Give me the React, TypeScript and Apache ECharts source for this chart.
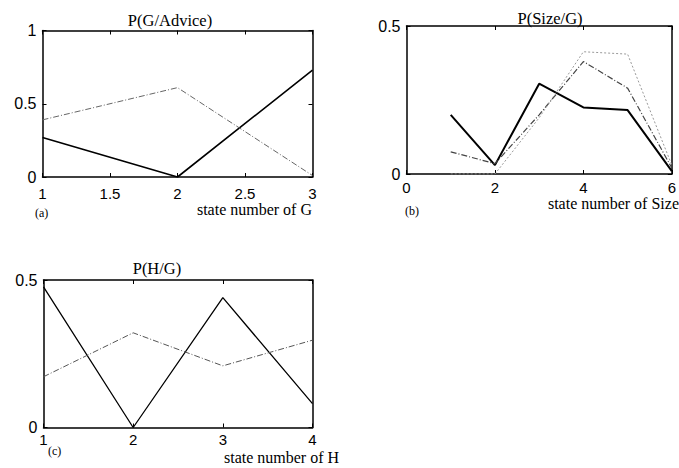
import React, { useEffect, useRef } from "react";
import * as echarts from "echarts";

// Panel (a): P(G/Advice)
const aStates = [1, 2, 3];
const aSolid = [0.27, 0.0, 0.73];
const aDashDot = [0.39, 0.61, 0.01];

// Panel (b): P(Size/G)
const bStates = [1, 2, 3, 4, 5, 6];
const bSolid = [0.2, 0.03, 0.305, 0.225, 0.216, 0.01];
const bDashDot = [0.075, 0.035, 0.2, 0.38, 0.29, 0.02];
const bDotted = [0.0, 0.0, 0.19, 0.413, 0.405, 0.03];

// Panel (c): P(H/G)
const cStates = [1, 2, 3, 4];
const cSolid = [0.477, 0.0, 0.44, 0.081];
const cDashDot = [0.172, 0.321, 0.209, 0.296];

const titles = ["P(G/Advice)", "P(Size/G)", "P(H/G)"];
const xLabels = ["state number of G", "state number of Size", "state number of H"];
const panelTags = ["(a)", "(b)", "(c)"];

const SERIF = "'Liberation Serif', 'DejaVu Serif', serif";
const SANS = "'Liberation Sans', Arial, sans-serif";

const zip = (xs: number[], ys: number[]) => xs.map((x, i) => [x, ys[i]]);

export default function App() {
  const ref = useRef<HTMLDivElement>(null);
  useEffect(() => {
    if (!ref.current) return;
    const chart = echarts.init(ref.current, undefined, { renderer: "svg" });

    const grids = [
      { left: 42.5, top: 30.5, width: 270, height: 146.5 },
      { left: 406.5, top: 26, width: 268.5, height: 148 },
      { left: 43.5, top: 280, width: 269, height: 147.5 },
    ];
    const xr = [
      { min: 1, max: 3, interval: 0.5 },
      { min: 0, max: 6, interval: 2 },
      { min: 1, max: 4, interval: 1 },
    ];
    const yr = [
      { min: 0, max: 1, interval: 0.5 },
      { min: 0, max: 0.5, interval: 0.5 },
      { min: 0, max: 0.5, interval: 0.5 },
    ];
    const xMargins = [9, 6, 4];
    const axisLine = { show: true, onZero: false, lineStyle: { color: "#000", width: 1.5 } };
    const tick = { show: true, inside: true, length: 4, lineStyle: { color: "#000", width: 1 } };
    const xAxis: any[] = [];
    const yAxis: any[] = [];
    for (let i = 0; i < 3; i++) {
      xAxis.push({
        type: "value", gridIndex: i, position: "bottom", ...xr[i],
        axisLine, axisTick: tick, splitLine: { show: false },
        axisLabel: { color: "#000", fontFamily: SANS, fontSize: 15, margin: xMargins[i] },
      });
      xAxis.push({
        type: "value", gridIndex: i, position: "top", ...xr[i],
        axisLine, axisTick: tick, splitLine: { show: false }, axisLabel: { show: false },
      });
      yAxis.push({
        type: "value", gridIndex: i, position: "left", ...yr[i],
        axisLine, axisTick: tick, splitLine: { show: false },
        axisLabel: { color: "#000", fontFamily: SANS, fontSize: 16, margin: 6 },
      });
      yAxis.push({
        type: "value", gridIndex: i, position: "right", ...yr[i],
        axisLine, axisTick: tick, splitLine: { show: false }, axisLabel: { show: false },
      });
    }

    const line = (name: string, panel: number, data: number[][], style: any) => ({
      name, type: "line", xAxisIndex: panel * 2, yAxisIndex: panel * 2,
      data, symbol: "none", lineStyle: style, silent: true,
    });
    const solid = { color: "#000", width: 1.6, type: "solid" };
    const dashDot = { color: "#444", width: 1, type: [6, 2, 1, 2] };
    const dotted = { color: "#999", width: 1, type: [2, 2] };

    const series = [
      line("a1", 0, zip(aStates, aSolid), solid),
      line("a2", 0, zip(aStates, aDashDot), { ...dashDot, color: "#666" }),
      line("b1", 1, zip(bStates, bSolid), { ...solid, width: 2 }),
      line("b2", 1, zip(bStates, bDashDot), { ...dashDot, width: 1.2 }),
      line("b3", 1, zip(bStates, bDotted), dotted),
      line("c1", 2, zip(cStates, cSolid), { ...solid, width: 1.3 }),
      line("c2", 2, zip(cStates, cDashDot), { ...dashDot, color: "#555" }),
    ];

    const txt = (text: string, x: number, y: number, size: number, align: string) => ({
      type: "text", x, y, silent: true,
      style: { text, font: `${size}px ${SERIF}`, fill: "#000", textAlign: align, textVerticalAlign: "middle" },
    });

    chart.setOption({
      animation: false,
      backgroundColor: "#fff",
      grid: grids.map((g) => ({ ...g, containLabel: false })),
      xAxis,
      yAxis,
      series,
      graphic: [
        txt(titles[0], 170, 20, 16.5, "center"),
        txt(titles[1], 550, 18, 16.5, "center"),
        txt(titles[2], 157, 268, 16.5, "center"),
        txt(xLabels[0], 312, 209, 16, "right"),
        txt(xLabels[1], 679, 203, 16, "right"),
        txt(xLabels[2], 224, 457, 16, "left"),
        txt(panelTags[0], 35, 213, 12, "left"),
        txt(panelTags[1], 405, 211, 12, "left"),
        txt(panelTags[2], 48, 451, 12, "left"),
      ],
    });
    return () => chart.dispose();
  }, []);
  return (
    <div
      ref={ref}
      style={{ position: "fixed", left: 0, top: 0, width: 679, height: 468, background: "#fff" }}
    />
  );
}
